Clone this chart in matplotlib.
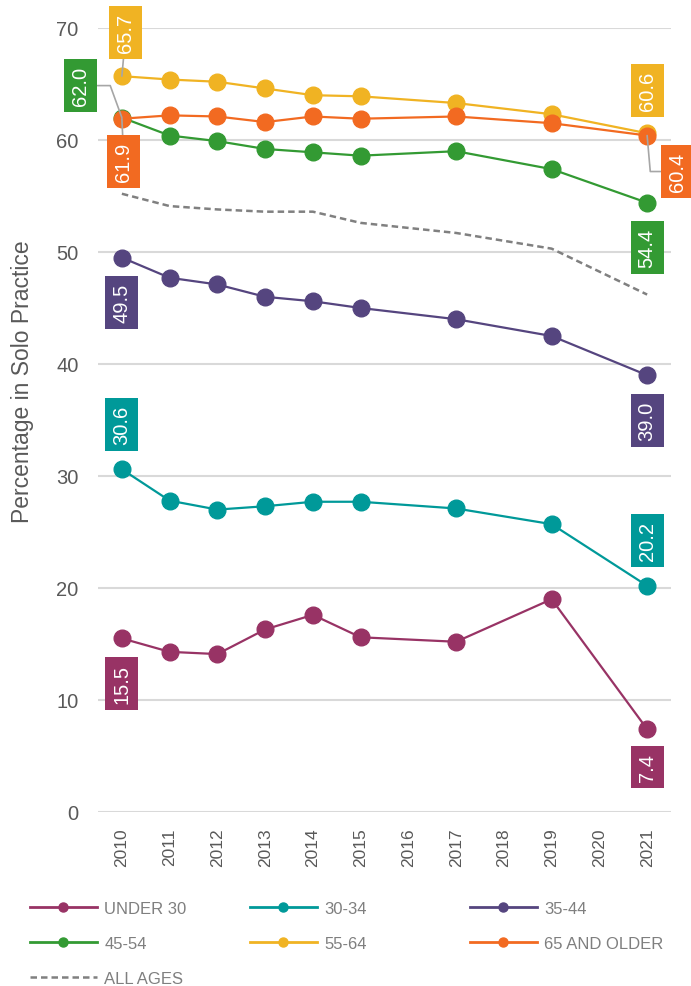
import matplotlib
matplotlib.use('Agg')
import matplotlib.pyplot as plt
from matplotlib.lines import Line2D

plt.rcParams['font.family'] = ['Liberation Sans', 'DejaVu Sans']

# data
years = [2010, 2011, 2012, 2013, 2014, 2015, 2017, 2019, 2021]
tick_years = list(range(2010, 2022))
under_30 = [15.5, 14.3, 14.1, 16.3, 17.6, 15.6, 15.2, 19.0, 7.4]
age_30_34 = [30.6, 27.8, 27.0, 27.3, 27.7, 27.7, 27.1, 25.7, 20.2]
age_35_44 = [49.5, 47.7, 47.1, 46.0, 45.6, 45.0, 44.0, 42.5, 39.0]
age_45_54 = [62.0, 60.4, 59.9, 59.2, 58.9, 58.6, 59.0, 57.4, 54.4]
age_55_64 = [65.7, 65.4, 65.2, 64.6, 64.0, 63.9, 63.3, 62.3, 60.6]
age_65_up = [61.9, 62.2, 62.1, 61.6, 62.1, 61.9, 62.1, 61.5, 60.4]
all_ages = [55.2, 54.1, 53.8, 53.6, 53.6, 52.6, 51.7, 50.3, 46.2]

names = ['UNDER 30', '30-34', '35-44', '45-54', '55-64', '65 AND OLDER']
series = [under_30, age_30_34, age_35_44, age_45_54, age_55_64, age_65_up]
colors = ['#983365', '#009999', '#55457f', '#339a33', '#f0b323', '#f26a21']

# label offsets in pixels (dx, dy) and connector style, first and last point
start_lbl = [((0, -45), None), ((0, 45), None), ((0, -45), None),
             ((-41, 32), 'angle,angleA=0,angleB=110,rad=0'),
             ((4, 44), 'arc3'), ((2, -43), 'arc3')]
end_lbl = [((0, -38), None), ((0, 45), None), ((0, -45), None),
           ((0, -45), None), ((0, 43), None),
           ((30, -36), 'angle,angleA=0,angleB=95,rad=0')]

fig = plt.figure(figsize=(6.91, 9.87), dpi=100)
ax = fig.add_axes([98 / 691, 1 - 813 / 987, 573 / 691, 784 / 987])

ax.plot(years, all_ages, color='#808080', lw=1.8, ls=(0, (2.6, 1.6)), zorder=2)

def add_label(x, y, color, off, conn):
    arrow = None
    if conn:
        arrow = dict(arrowstyle='-', color='#a6a6a6', lw=1.2,
                     shrinkA=0, shrinkB=0, connectionstyle=conn)
    ax.annotate(f'{y:.1f}', (x, y), xytext=off, textcoords='offset pixels',
                rotation=90, ha='center', va='center', fontsize=14.5,
                color='white', zorder=5, arrowprops=arrow,
                bbox=dict(boxstyle='square,pad=0.35', fc=color, ec='none'))

for vals, c, s0, s1 in zip(series, colors, start_lbl, end_lbl):
    ax.plot(years, vals, color=c, lw=1.6, marker='o', ms=12, clip_on=False, zorder=3)
    add_label(years[0], vals[0], c, *s0)
    add_label(years[-1], vals[-1], c, *s1)

ax.set_xlim(2009.5, 2021.5)
ax.set_ylim(0, 70)
ax.set_xticks(tick_years)
ax.set_xticklabels([str(y) for y in tick_years], rotation=90)
ax.set_yticks(range(0, 71, 10))
ax.tick_params(axis='x', length=0, pad=11, labelsize=12.5, labelcolor='#595959')
ax.tick_params(axis='y', length=0, pad=14, labelsize=14.5, labelcolor='#595959')
ax.yaxis.grid(True, color='#d9d9d9', lw=1.5)
ax.set_axisbelow(True)
for sp in ax.spines.values():
    sp.set_visible(False)

ax.set_ylabel('Percentage in Solo Practice', fontsize=16.5, color='#595959')
ax.yaxis.set_label_coords(-0.112, 0.55)

# legend, three columns placed by hand
def handle(c, dashed=False):
    if dashed:
        return Line2D([], [], color='#808080', lw=1.8, ls=(0, (2.6, 1.6)))
    return Line2D([], [], color=c, lw=2, marker='o', ms=6.5)

cols = [
    ([handle(colors[0]), handle(colors[3]), handle(None, True)],
     [names[0], names[3], 'ALL AGES'], 30),
    ([handle(colors[1]), handle(colors[4])], [names[1], names[4]], 250),
    ([handle(colors[2]), handle(colors[5])], [names[2], names[5]], 470),
]
for hs, ls, x in cols:
    leg = fig.legend(hs, ls, loc='upper left', bbox_to_anchor=(x / 691, 1 - 902 / 987),
                     frameon=False, fontsize=12, handlelength=4.0, handletextpad=0.45,
                     labelspacing=1.2, borderpad=0, borderaxespad=0)
    for t in leg.get_texts():
        t.set_color('#7f7f7f')

fig.savefig('out.png', dpi=100)
